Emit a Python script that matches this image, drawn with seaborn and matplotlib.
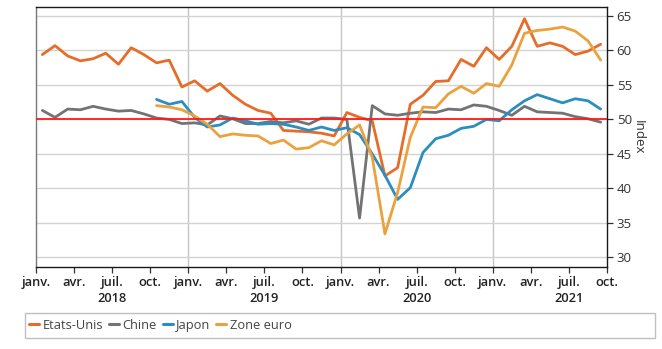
import numpy as np
import pandas as pd
import matplotlib
matplotlib.use("Agg")
import matplotlib.pyplot as plt
import matplotlib.transforms as mtransforms
from matplotlib.patches import Rectangle
from matplotlib.lines import Line2D
import seaborn as sns

# ---------------- data ----------------
month_labels = ["janv.", "avr.", "juil.", "oct."]
years = ["2018", "2019", "2020", "2021"]
series_names = ["Etats-Unis", "Chine", "Japon", "Zone euro"]
colors = ["#E66D29", "#737373", "#2C8DC1", "#EAA23F"]

# janv. 2018 - sept. 2021
etats_unis = [59.4, 60.7, 59.2, 58.5, 58.8, 59.6, 58.0, 60.4, 59.4, 58.2, 58.6, 54.7,
              55.6, 54.1, 55.2, 53.5, 52.2, 51.3, 50.9, 48.4, 48.3, 48.2, 48.0, 47.6,
              51.0, 50.3, 49.8, 41.8, 43.0, 52.2, 53.5, 55.5, 55.6, 58.7, 57.7, 60.4,
              58.7, 60.6, 64.6, 60.6, 61.1, 60.6, 59.4, 59.9, 60.9]
chine = [51.3, 50.3, 51.5, 51.4, 51.9, 51.5, 51.2, 51.3, 50.8, 50.2, 50.0, 49.4,
         49.5, 49.2, 50.5, 50.1, 49.4, 49.4, 49.7, 49.5, 49.8, 49.3, 50.2, 50.2,
         50.0, 35.7, 52.0, 50.8, 50.6, 50.9, 51.1, 51.0, 51.5, 51.4, 52.1, 51.9,
         51.3, 50.6, 51.9, 51.1, 51.0, 50.9, 50.4, 50.1, 49.6]
# oct. 2018 - sept. 2021
japon = [52.9, 52.2, 52.6,
         50.3, 48.9, 49.2, 50.2, 49.8, 49.3, 49.4, 49.3, 48.9, 48.4, 48.9, 48.4,
         48.8, 47.8, 45.0, 41.9, 38.4, 40.1, 45.2, 47.2, 47.7, 48.7, 49.0, 50.0,
         49.8, 51.4, 52.7, 53.6, 53.0, 52.4, 53.0, 52.7, 51.5]
zone_euro = [52.0, 51.8, 51.4,
             50.5, 49.3, 47.5, 47.9, 47.7, 47.6, 46.5, 47.0, 45.7, 45.9, 46.9, 46.3,
             47.9, 49.2, 44.5, 33.4, 39.4, 47.4, 51.8, 51.7, 53.7, 54.8, 53.8, 55.2,
             54.8, 57.9, 62.5, 62.9, 63.1, 63.4, 62.8, 61.4, 58.6]

n_months = len(etats_unis)
rows = []
for name, vals in zip(series_names, [etats_unis, chine, japon, zone_euro]):
    offset = n_months - len(vals)
    for i, v in enumerate(vals):
        rows.append({"serie": name, "mois": offset + i + 0.5, "valeur": v})
df = pd.DataFrame(rows)

# ---------------- style ----------------
sns.set_style("white")
plt.rcParams["font.family"] = ["Open Sans", "DejaVu Sans"]

fig = plt.figure(figsize=(6.62, 3.49), dpi=100)
ax = fig.add_axes([36 / 662, 1 - 266.7 / 349, (607 - 36) / 662, (266.7 - 7.3) / 349])

ax.set_xlim(0, 45)
ax.set_ylim(28.64, 66.26)

# grid
ax.set_yticks(np.arange(30, 66, 5))
ax.grid(axis="y", color="#d3d3d3", lw=1.0, zorder=0)
ax.grid(axis="x", visible=False)
for xv in (12, 24, 36):
    ax.axvline(xv, color="#c4c4c4", lw=1.0, zorder=0.5)

sns.lineplot(data=df, x="mois", y="valeur", hue="serie", hue_order=series_names,
             palette=colors, linewidth=2.0, estimator=None, sort=True,
             legend=False, ax=ax, zorder=3)

ax.axhline(50, color="#FF1A1A", lw=1.3, zorder=4)

# x axis
xt = np.arange(0, 46, 3)
ax.set_xticks(xt)
ax.set_xticklabels([month_labels[(t // 3) % 4] for t in xt], fontsize=9.3,
                   fontweight="semibold", color="#222222")
ax.tick_params(axis="x", direction="out", length=4, width=0.9, color="#333333",
               pad=3, bottom=True)
trans = mtransforms.blended_transform_factory(ax.transData, ax.transAxes)
for k, y in enumerate(years):
    ax.text(k * 12 + 6, -0.122, y, transform=trans, ha="center", va="center",
            fontsize=9.3, fontweight="semibold", color="#222222")

# y axis on right
ax.yaxis.tick_right()
ax.yaxis.set_label_position("right")
ax.tick_params(axis="y", direction="out", length=4, width=0.9, color="#333333",
               labelsize=9.5, labelcolor="#333333", pad=3, right=True, left=False)
ax.set_ylabel("Index", rotation=270, fontsize=9.5, color="#333333", labelpad=9)
ax.set_xlabel("")

for side in ("top", "right", "bottom"):
    ax.spines[side].set_color("#1a1a1a")
    ax.spines[side].set_linewidth(1.0)
ax.spines["left"].set_color("#777777")
ax.spines["left"].set_linewidth(1.0)

# legend
handles = [Line2D([0], [0], color=c, lw=2.2) for c in colors]
fig.legend(handles, series_names, loc="center left",
           bbox_to_anchor=(29 / 662, 1 - 325.5 / 349), ncol=4, frameon=False,
           fontsize=9.3, handlelength=0.8, handletextpad=0.25,
           columnspacing=0.45, borderaxespad=0, borderpad=0,
           labelcolor="#444444")
fig.add_artist(Rectangle((25 / 662, 1 - 338 / 349), 630 / 662, 25 / 349,
                         transform=fig.transFigure, fill=False,
                         edgecolor="#c0c0c0", lw=1.0))

fig.savefig("out.png", dpi=100)
